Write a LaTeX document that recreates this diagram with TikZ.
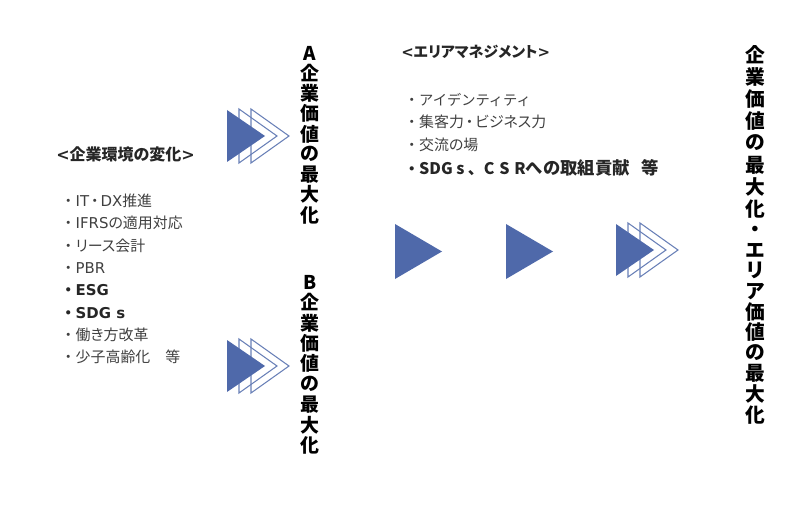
\documentclass[tikz,border=0pt]{standalone}
\usepackage{fontspec}
\setmainfont{Noto Sans CJK JP}[RawFeature=+palt]
\newfontfamily\lt{DejaVu Sans}
\newfontfamily\jpfull{Noto Sans CJK JP}
\newcommand\dotc{{\jpfull ・}}
\newcommand\mdot{\kern-0.12em{\jpfull ・}\kern-0.12em}
\definecolor{tri}{HTML}{4F69AA}
\definecolor{txt}{HTML}{404040}
\definecolor{txtb}{HTML}{262626}
\tikzset{
  solidtri/.style={fill=tri, draw=none},
  opentri/.style={draw=tri!85, line width=0.8pt, line join=miter},
  item/.style={anchor=base west, inner sep=0pt, text=txt, font=\fontsize{11.2pt}{12pt}\selectfont},
  itemb/.style={item, text=txtb, font=\fontsize{11.2pt}{12pt}\selectfont\bfseries},
  head/.style={anchor=base west, inner sep=0pt, text=txtb, font=\fontsize{12pt}{13pt}\selectfont\bfseries},
  vt/.style={inner sep=0pt, text=black, font=\jpfull\fontsize{14.2pt}{15pt}\selectfont\bfseries},
  vtr/.style={inner sep=0pt, text=black, font=\jpfull\fontsize{14.8pt}{15pt}\selectfont\bfseries}
}
\begin{document}
\begin{tikzpicture}[x=0.75pt, y=-0.75pt]
\useasboundingbox (0,0) rectangle (800,506);

% triple arrows (left top, left bottom, right)
\foreach \ox/\oy in {227/110, 227/340, 616/224}{
  \draw[opentri] (\ox+24,\oy-1) -- (\ox+62,\oy+26) -- (\ox+24,\oy+53) -- cycle;
  \draw[opentri] (\ox+12,\oy-1) -- (\ox+50,\oy+26) -- (\ox+12,\oy+53) -- cycle;
  \fill[solidtri] (\ox,\oy) -- (\ox+38,\oy+26) -- (\ox,\oy+52) -- cycle;
}
% single arrows
\fill[solidtri] (395,224) -- (442,251.5) -- (395,279) -- cycle;
\fill[solidtri] (506,224) -- (553,251.5) -- (506,279) -- cycle;

% left block
\node[head] (lh) at (56,160.5) {{\lt <}企業環境の変化{\lt >}};
\node[item]  (l1) at (60.5,206.6) {\dotc{\lt IT}\mdot{\lt DX}推進};
\node[item]  (l2) at (60.5,228.9) {\dotc{\lt IFRS}の適用対応};
\node[item]  (l3) at (60.5,251.2) {\dotc リース会計};
\node[item]  (l4) at (60.5,273.5) {\dotc{\lt PBR}};
\node[itemb] (l5) at (60.5,295.8) {\dotc{\lt ESG}};
\node[itemb] (l6) at (60.5,318.1) {\dotc{\lt SDG s}};
\node[item]  (l7) at (60.5,340.4) {\dotc 働き方改革};
\node[item]  (l8) at (60.5,362.7) {\dotc 少子高齢化\hspace{1em}等};

% right-middle block
\node[head, font=\fontsize{11.2pt}{13pt}\selectfont\bfseries] (rh) at (401,57.5) {{\lt <}エリアマネジメント{\lt >}};
\node[item]  (r1) at (404,105.6) {\dotc{\jpfull\fontsize{10.7pt}{12pt}\selectfont アイデンティティ}};
\node[item]  (r2) at (404,127.5) {\dotc 集客力\mdot ビジネス力};
\node[item]  (r3) at (404,150.6) {\dotc 交流の場};
\node[itemb] (r4) at (404,175) {\dotc\fontsize{12pt}{13pt}\selectfont SDG s\hspace{0.2em}{\jpfull 、}C\hspace{0.3em}S\hspace{0.3em}R{\jpfull\fontsize{13pt}{14pt}\selectfont への取組貢献\hspace{0.7em}等}};

% vertical texts
\foreach \c [count=\i from 0] in {A,企,業,価,値,の,最,大,化}
  \node[vt] (va\i) at (310,53+\i*20.25) {\c};
\foreach \c [count=\i from 0] in {B,企,業,価,値,の,最,大,化}
  \node[vt] (vb\i) at (310,282+\i*20.4) {\c};
\foreach \c/\yy [count=\i from 0] in {企/55,業/77,価/99,値/121,の/143,最/165,大/187,化/209,・/231,エ/250,リ/270.6,ア/291.2,価/311.8,値/332.4,の/353,最/373.6,大/394.2,化/414.8}
  \node[vtr] (vr\i) at (755,\yy) {\c};
\end{tikzpicture}
\end{document}
